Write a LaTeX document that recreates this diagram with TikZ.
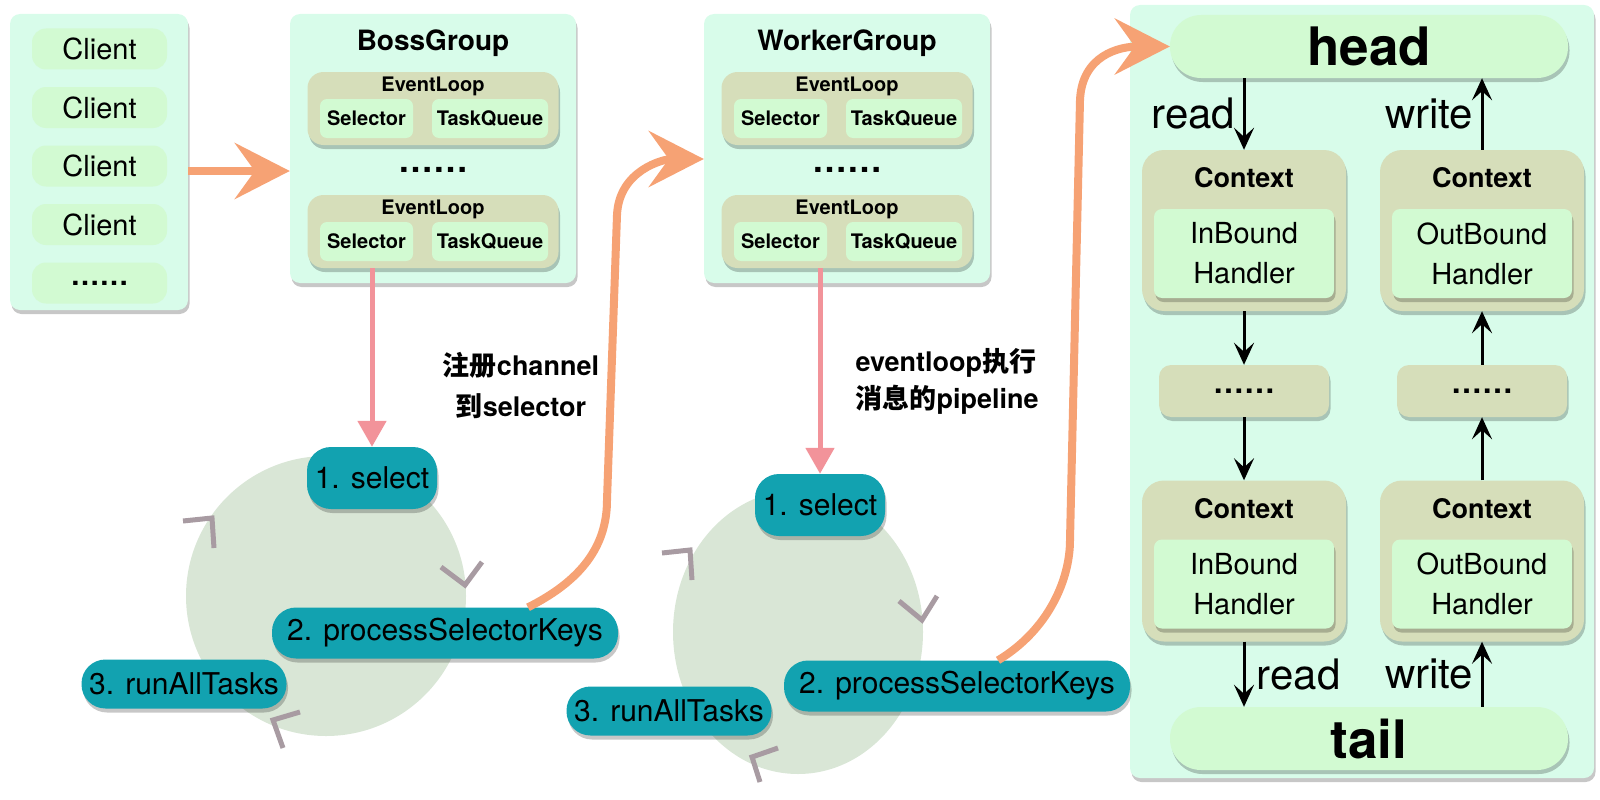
\documentclass[tikz,border=0pt]{standalone}
\usepackage{fontspec}
\setmainfont{TeX Gyre Heros}
\newfontfamily\cjkfont{Noto Sans CJK SC}
\usetikzlibrary{arrows.meta,shadows,shapes.geometric}
\definecolor{mint}{HTML}{D8FCEA}
\definecolor{leaf}{HTML}{D2FAD2}
\definecolor{khaki}{HTML}{D6DEBA}
\definecolor{stage}{HTML}{12A2B0}
\definecolor{loopgray}{HTML}{D9E6D6}
\definecolor{peach}{HTML}{F6A274}
\definecolor{rose}{HTML}{F2939A}
\definecolor{chev}{HTML}{A89BA2}
\newcommand\fsz[2]{\fontsize{#1}{#2}\selectfont}
\tikzset{
  softshadow/.style={drop shadow={shadow xshift=1.5pt,shadow yshift=-4pt,opacity=.22,fill=black}},
  groupbox/.style={fill=mint,rounded corners=10pt,inner sep=0pt,softshadow},
  loopbox/.style={fill=khaki,rounded corners=16pt,minimum width=251pt,minimum height=73pt,softshadow},
  itembox/.style={fill=leaf,rounded corners=7pt,minimum height=39pt,inner sep=0pt,font=\bfseries\fsz{20}{24}},
  clientbox/.style={fill=leaf,rounded corners=14pt,minimum width=135pt,minimum height=41pt,font=\fsz{29}{34}},
  stagepill/.style={fill=stage,rounded corners=24pt,inner sep=0pt,font=\fsz{30}{34},softshadow},
  loopdisc/.style={ellipse,fill=loopgray,inner sep=0pt,outer sep=0pt},
  leafpill/.style={fill=leaf,rounded corners=31pt,minimum width=398pt,minimum height=63pt,font=\bfseries\fsz{53}{60},softshadow},
  ctxbox/.style={fill=khaki,rounded corners=22pt,minimum width=204pt,minimum height=161pt,softshadow},
  handbox/.style={fill=leaf,rounded corners=8pt,minimum width=180pt,minimum height=89pt,align=center,font=\fsz{29}{40},softshadow},
  dotbox/.style={fill=khaki,rounded corners=12pt,minimum width=170pt,minimum height=52pt,font=\bfseries\fsz{31}{31},softshadow},
  pinkarr/.style={draw=rose,line width=5pt,-{Triangle[length=26pt,width=28pt]}},
  bigarr/.style={draw=peach,line width=8pt,-{Stealth[length=55pt,width=56pt,inset=20pt]}},
  flow/.style={line width=3pt,-{Stealth[length=22pt,width=20pt,inset=9pt]}},
  turn/.style={draw=chev,line width=5pt},
  rw/.style={font=\fsz{42}{46}}
}
\begin{document}
\begin{tikzpicture}[x=1pt,y=-1pt]
\useasboundingbox (0,0) rectangle (1600,800);

\node[groupbox,minimum width=178pt,minimum height=296pt] (clients) at (99,162) {};
\foreach \i in {0,...,3}
  \node[clientbox] (cl\i) at (99.5,49+58.5*\i) {Client};
\node[clientbox,font=\bfseries\fsz{29}{34}] (cl4) at (99.5,283) {……};

\foreach \g/\gname/\gx in {b/BossGroup/433, w/WorkerGroup/847}{
  \node[groupbox,minimum width=286pt,minimum height=269pt] (\g grp) at (\gx,148.5) {};
  \node[font=\bfseries\fsz{28}{32}] (\g title) at (\gx,43) {\gname};
  \node[font=\bfseries\fsz{35}{35}] (\g dots) at (\gx,170) {……};
  \foreach \i/\ly in {1/108.5, 2/231.5}{
    \node[loopbox] (\g el\i) at (\gx,\ly) {};
    \node[font=\bfseries\fsz{20}{24}] (\g lbl\i) at (\gx,\ly-22.5) {EventLoop};
    \node[itembox,minimum width=93pt] (\g sel\i) at (\gx-66.5,\ly+10) {Selector};
    \node[itembox,minimum width=116pt] (\g tq\i) at (\gx+57,\ly+10) {TaskQueue};
  }
}

\node[loopdisc,minimum width=280pt,minimum height=280pt] (bloop) at (326,596) {};
\node[loopdisc,minimum width=250pt,minimum height=284pt] (wloop) at (798,632) {};
\draw[turn] (183,521) -- (212,518) -- (214,548);
\draw[turn] (441,567) -- (465,585) -- (482,562);
\draw[turn] (300,712) -- (273,720) -- (283,748);
\draw[turn] (662,553) -- (690,550) -- (692,580);
\draw[turn] (899,601) -- (922,620) -- (937,596);
\draw[turn] (778,748) -- (752,757) -- (760,782);

\node[font=\bfseries\fsz{27}{41},align=center] (regnote) at (521,386) {{\cjkfont 注册}channel\\{\cjkfont 到}selector};
\node[font=\bfseries\fsz{27}{37},align=left,anchor=west] (pipenote) at (852,381) {eventloop{\cjkfont 执行}\\{\cjkfont 消息的}pipeline};

\node[groupbox,minimum width=464pt,minimum height=773pt] (pipe) at (1362,391.5) {};
\node[leafpill] (head) at (1369,46.5) {head};
\node[leafpill] (tail) at (1369,738.5) {tail};
\foreach \side/\cx/\cy/\kind in {tl/1244/230.5/In, tr/1482/230.5/Out, bl/1244/561/In, br/1482/561/Out}{
  \node[ctxbox] (\side ctx) at (\cx,\cy) {};
  \node[font=\bfseries\fsz{27}{32}] (\side lbl) at (\cx,\cy-52.5) {Context};
  \node[handbox] (\side hd) at (\cx,\cy+23) {\kind Bound\\Handler};
}
\node[dotbox] (ldots) at (1244,391) {……};
\node[dotbox] (rdots) at (1482,391) {……};

\draw[flow] (tlctx.north |- head.south) -- node[rw,left=4pt] (rd1) {read} (tlctx.north);
\draw[flow] (trctx.north) -- node[rw,left=4pt] (wr1) {write} (trctx.north |- head.south);
\draw[flow] (tlctx.south) -- (ldots.north);
\draw[flow] (ldots.south) -- (blctx.north);
\draw[flow] (brctx.north) -- (rdots.south);
\draw[flow] (rdots.north) -- (trctx.south);
\draw[flow] (blctx.south) -- node[rw,right=8pt] (rd2) {read} (blctx.south |- tail.north);
\draw[flow] (brctx.south |- tail.north) -- node[rw,left=4pt] (wr2) {write} (brctx.south);

\draw[bigarr] ([yshift=-9pt]clients.east) -- ([yshift=-22.5pt]bgrp.west);

\node[stagepill,minimum width=130pt,minimum height=62pt] (bsel) at (372,478) {1. select};
\node[stagepill,minimum width=346pt,minimum height=51pt] (bpsk) at (445,633) {2. processSelectorKeys};
\node[stagepill,minimum width=205pt,minimum height=49pt] (brun) at (184,684) {3. runAllTasks};
\node[stagepill,minimum width=130pt,minimum height=62pt] (wsel) at (820,505) {1. select};
\node[stagepill,minimum width=346pt,minimum height=51pt] (wpsk) at (957,686) {2. processSelectorKeys};
\node[stagepill,minimum width=205pt,minimum height=49pt] (wrun) at (669,711) {3. runAllTasks};

\draw[pinkarr] (bsel.north |- bel2.south) -- (bsel.north);
\draw[pinkarr] (wsel.north |- wel2.south) -- (wsel.north);
\draw[bigarr] ([xshift=83pt]bpsk.north) .. controls +(60,-30) and +(0,40) .. (607,500) -- (617,215) .. controls +(2,-45) and +(-40,0) .. ([yshift=-10.5pt]wgrp.west);
\draw[bigarr] ([xshift=41pt]wpsk.north) .. controls +(50,-30) and +(0,40) .. (1070,540) -- (1080,100) .. controls +(2,-45) and +(-50,0) .. (head.west);
\end{tikzpicture}
\end{document}
